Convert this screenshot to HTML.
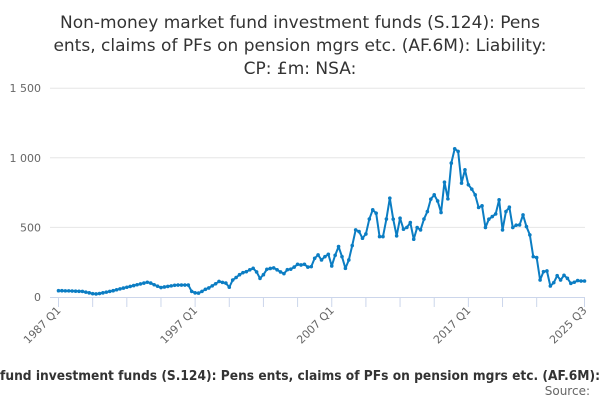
<!DOCTYPE html>
<html><head><meta charset="utf-8"><style>
html,body{margin:0;padding:0;background:#fff;}
svg{display:block;font-family:"DejaVu Sans","Liberation Sans",sans-serif;}
</style></head><body>
<svg id="chart" width="600" height="400" viewBox="0 0 600 400">
<g fill="#333" font-size="17" text-anchor="middle">
<text x="300" y="28">Non-money market fund investment funds (S.124): Pens</text>
<text x="300" y="51">ents, claims of PFs on pension mgrs etc. (AF.6M): Liability:</text>
<text x="300" y="74">CP: £m: NSA:</text>
</g>
<g id="grid"></g>
<g id="yaxis"></g>
<g id="xaxis"></g>
<g id="series"></g>
<text x="0" y="380" font-size="13" font-weight="bold" fill="#333" textLength="600" lengthAdjust="spacingAndGlyphs">fund investment funds (S.124): Pens ents, claims of PFs on pension mgrs etc. (AF.6M):</text>
<text x="590" y="395" font-size="12" fill="#666" text-anchor="end">Source:</text>
</svg>
<script>
const values=[45,45,44,44,43,42,41,40,35,30,24,22,
25,30,35,40,45,52,58,64,70,76,82,88,94,100,106,
100,88,78,68,72,76,80,84,86,86,86,86,
40,30,28,40,55,65,80,95,
112,105,100,70,122,140,160,175,182,195,206,180,134,
160,199,205,209,195,180,168,196,200,215,235,230,
235,215,218,278,302,266,290,307,223,300,362,290,206,266,370,
482,470,422,453,560,626,602,434,434,560,710,559,439,566,487,500,535,415,499,482,560,614,
703,734,690,607,825,705,962,1065,1046,818,914,806,775,734,643,655,499,559,578,597,698,482,614,645,499,516,518,590,506,446,290,283,122,182,187,79,103,153,122,156,134,98,106,118,115,115];
const yTicks=[0,500,1000,1500];
const yTickLabels=["0","500","1 000","1 500"];
const xLabelIdx=[0,40,80,120,154];
const xLabels=["1987 Q1","1997 Q1","2007 Q1","2017 Q1","2025 Q3"];
const NS="http://www.w3.org/2000/svg";
const x0=58.5,x1=584.5,y0=297,yPer=69.6/500;
const xs=i=>x0+(x1-x0)*i/(values.length-1);
const ys=v=>y0-v*yPer;
function mk(t,a,p){const e=document.createElementNS(NS,t);for(const k in a)e.setAttribute(k,a[k]);p.appendChild(e);return e;}
const grid=document.getElementById('grid'),ya=document.getElementById('yaxis'),xa=document.getElementById('xaxis'),se=document.getElementById('series');
yTicks.forEach((v,k)=>{
 if(v>0){const g=mk('line',{x1:50,x2:585,y1:ys(v),y2:ys(v),stroke:'#e6e6e6','stroke-width':1},grid);
 
 }
 const t=mk('text',{x:41,y:ys(v)+4,'text-anchor':'end','font-size':11,fill:'#666'},ya);t.textContent=yTickLabels[k];
 
 
});
const al=mk('line',{x1:50,x2:585,y1:y0+0.5,y2:y0+0.5,stroke:'#ccd6eb','stroke-width':1},xa);


const tickIdx=[];for(let i=0;i<=140;i+=10)tickIdx.push(i);tickIdx.push(values.length-1);
tickIdx.forEach(i=>{const t=mk('line',{x1:xs(i),x2:xs(i),y1:y0,y2:y0+10,stroke:'#ccd6eb','stroke-width':1},xa);
 
 });
xLabelIdx.forEach((i,k)=>{const x=xs(i)+3,y=y0+14;
 const t=mk('text',{x:x,y:y,'text-anchor':'end','font-size':11,fill:'#666',transform:`rotate(-45 ${x} ${y})`},xa);t.textContent=xLabels[k];
 
 });
let d='';values.forEach((v,i)=>{d+=(i?'L':'M')+xs(i).toFixed(2)+' '+ys(v).toFixed(2);});
const p=mk('path',{d:d,fill:'none',stroke:'#0b7dc3','stroke-width':2,'stroke-linejoin':'round'},se);


values.forEach((v,i)=>{const c=mk('circle',{cx:xs(i),cy:ys(v),r:1.8,fill:'#0b7dc3'},se);
 
 });
</script>
</body></html>
